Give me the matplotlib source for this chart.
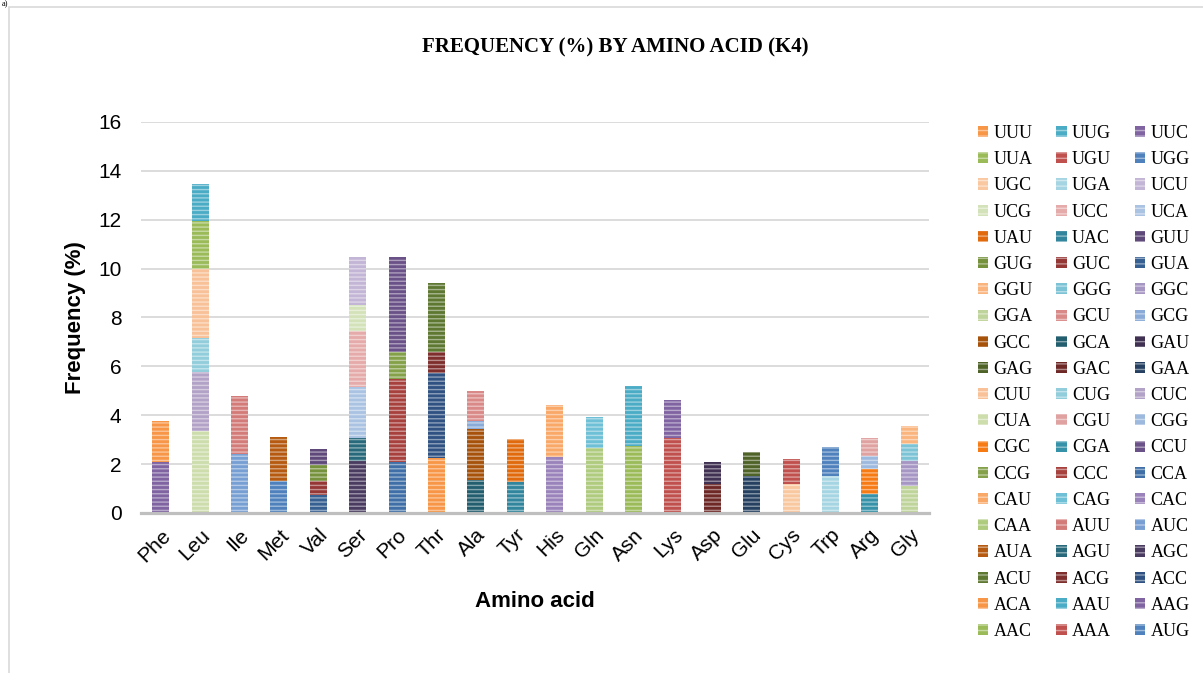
import numpy as np
import matplotlib
matplotlib.use("Agg")
import matplotlib.pyplot as plt
from matplotlib.colors import to_rgb
from matplotlib.patches import Rectangle, Patch

amino_acids = ["Phe", "Leu", "Ile", "Met", "Val", "Ser", "Pro", "Thr", "Ala", "Tyr",
               "His", "Gln", "Asn", "Lys", "Asp", "Glu", "Cys", "Trp", "Arg", "Gly"]

# codons in series order, with the amino acid each one codes for (mito code)
codons = ["UUU", "UUG", "UUC", "UUA", "UGU", "UGG", "UGC", "UGA", "UCU", "UCG",
          "UCC", "UCA", "UAU", "UAC", "GUU", "GUG", "GUC", "GUA", "GGU", "GGG",
          "GGC", "GGA", "GCU", "GCG", "GCC", "GCA", "GAU", "GAG", "GAC", "GAA",
          "CUU", "CUG", "CUC", "CUA", "CGU", "CGG", "CGC", "CGA", "CCU", "CCG",
          "CCC", "CCA", "CAU", "CAG", "CAC", "CAA", "AUU", "AUC", "AUA", "AGU",
          "AGC", "ACU", "ACG", "ACC", "ACA", "AAU", "AAG", "AAC", "AAA", "AUG"]
codon_aa = ["Phe", "Leu", "Phe", "Leu", "Cys", "Trp", "Cys", "Trp", "Ser", "Ser",
            "Ser", "Ser", "Tyr", "Tyr", "Val", "Val", "Val", "Val", "Gly", "Gly",
            "Gly", "Gly", "Ala", "Ala", "Ala", "Ala", "Asp", "Glu", "Asp", "Glu",
            "Leu", "Leu", "Leu", "Leu", "Arg", "Arg", "Arg", "Arg", "Pro", "Pro",
            "Pro", "Pro", "His", "Gln", "His", "Gln", "Ile", "Ile", "Met", "Ser",
            "Ser", "Thr", "Thr", "Thr", "Thr", "Asn", "Lys", "Asn", "Lys", "Met"]
codon_freq = [1.69, 1.50, 2.09, 1.98, 1.02, 1.18, 1.19, 1.51, 1.98, 1.08,
              2.27, 2.08, 1.73, 1.28, 0.65, 0.64, 0.57, 0.74, 0.73, 0.69,
              1.01, 1.12, 1.23, 0.34, 2.08, 1.34, 0.90, 0.95, 1.19, 1.53,
              2.80, 1.39, 2.43, 3.35, 0.71, 0.56, 1.01, 0.78, 3.90, 1.11,
              3.39, 2.09, 2.13, 1.27, 2.29, 2.67, 2.34, 2.43, 1.81, 0.95,
              2.13, 2.81, 0.87, 3.46, 2.26, 2.44, 1.53, 2.76, 3.08, 1.31]

colors = ["#F79646", "#4BACC6", "#8064A2", "#9BBB59", "#C0504D", "#4F81BD",
          "#FAC8A0", "#A5D5E2", "#C3B5D6", "#D4E2BA", "#E5ABAA", "#ABC3E3",
          "#E06A0C", "#31859C", "#5F497A", "#76923C", "#953735", "#366092",
          "#FAB47E", "#7CC3D6", "#A696C4", "#BFD49A", "#D98A88", "#8AABD8",
          "#A6520B", "#225E6E", "#403152", "#4F6228", "#6E2826", "#254061",
          "#F9C198", "#92CDDC", "#B3A2C7", "#CDDDAC", "#E0A2A0", "#9DB9DE",
          "#F77B14", "#3592A9", "#6A5187", "#84A14A", "#A7413E", "#3F6FA6",
          "#F9A868", "#6DC0D5", "#9A83BA", "#AFCB7D", "#D37B78", "#779FD3",
          "#B55A10", "#28697B", "#4A3B60", "#5E7831", "#7E2F2D", "#2F5282",
          "#F79646", "#4BACC6", "#8064A2", "#9BBB59", "#C0504D", "#4F81BD"]


def stripe(c, k=0.45):
    r, g, b = to_rgb(c)
    return (r + (1 - r) * k, g + (1 - g) * k, b + (1 - b) * k)


plt.rcParams["hatch.linewidth"] = 1.0

fig = plt.figure(figsize=(12.03, 6.73), dpi=100)
ax = fig.add_axes([141 / 1203, 1 - 513 / 673, 788 / 1203, 391 / 673])

# outer chart border
fig.patches.append(Rectangle((9 / 1203, -0.05), 1.1, 1 - 7 / 673 + 0.05,
                             transform=fig.transFigure, fill=False,
                             edgecolor="#D9D9D9", linewidth=1.2))
fig.text(2 / 1203, 1 - 0.5 / 673, "a)", fontsize=6, family="Liberation Serif", va="top")

x = np.arange(len(amino_acids))
bottom = np.zeros(len(amino_acids))
handles = {}
# last series sits at the bottom of each column
for i in range(len(codons) - 1, -1, -1):
    vals = np.zeros(len(amino_acids))
    vals[amino_acids.index(codon_aa[i])] = codon_freq[i]
    ax.bar(x, vals, 0.43, bottom=bottom, color=colors[i], edgecolor=stripe(colors[i]),
           linewidth=0, hatch="----", zorder=3)
    bottom += vals
    handles[codons[i]] = Patch(facecolor=colors[i], edgecolor=stripe(colors[i]),
                               linewidth=0, hatch="---")

ax.set_xlim(-0.5, len(amino_acids) - 0.5)
ax.set_ylim(0, 16)
ax.set_yticks(range(0, 17, 2))
ax.grid(axis="y", color="#D9D9D9", linewidth=1.3, zorder=0)
ax.set_axisbelow(True)
for s in ["top", "right", "left"]:
    ax.spines[s].set_visible(False)
ax.spines["bottom"].set_color("#BFBFBF")
ax.spines["bottom"].set_linewidth(2.3)
ax.spines["bottom"].set_zorder(4)
ax.tick_params(axis="both", length=0, labelsize=15)
ax.tick_params(axis="y", pad=14)
ax.tick_params(axis="x", pad=9)
ax.set_xticks(x)
ax.set_xticklabels(amino_acids, rotation=45, ha="right", va="top", rotation_mode="anchor")
for lab in ax.get_xticklabels() + ax.get_yticklabels():
    lab.set_family("Liberation Sans")

ax.set_ylabel("Frequency (%)", fontsize=16, fontweight="bold", family="Liberation Sans")
ax.yaxis.set_label_coords(-55 / 788, 0.5)
ax.set_xlabel("Amino acid", fontsize=16, fontweight="bold", family="Liberation Sans")
ax.xaxis.set_label_coords((535 - 141) / 788, -(591 - 513) / 391)

fig.text(615 / 1203, 1 - 47 / 673, "FREQUENCY (%) BY AMINO ACID (K4)", ha="center",
         va="center", fontsize=15, fontweight="bold", family="Liberation Serif")

# legend reads row by row across three columns
order = codons[0::3] + codons[1::3] + codons[2::3]
fig.legend([handles[c] for c in order], order, loc="upper left",
           bbox_to_anchor=(978 / 1203, 1 - 125 / 673), ncol=3, frameon=False,
           prop={"family": "Liberation Serif", "size": 13}, borderpad=0, borderaxespad=0,
           handlelength=0.57, handleheight=0.57, handletextpad=0.3,
           labelspacing=0.51, columnspacing=1.3)

fig.savefig("out.png", dpi=100)
